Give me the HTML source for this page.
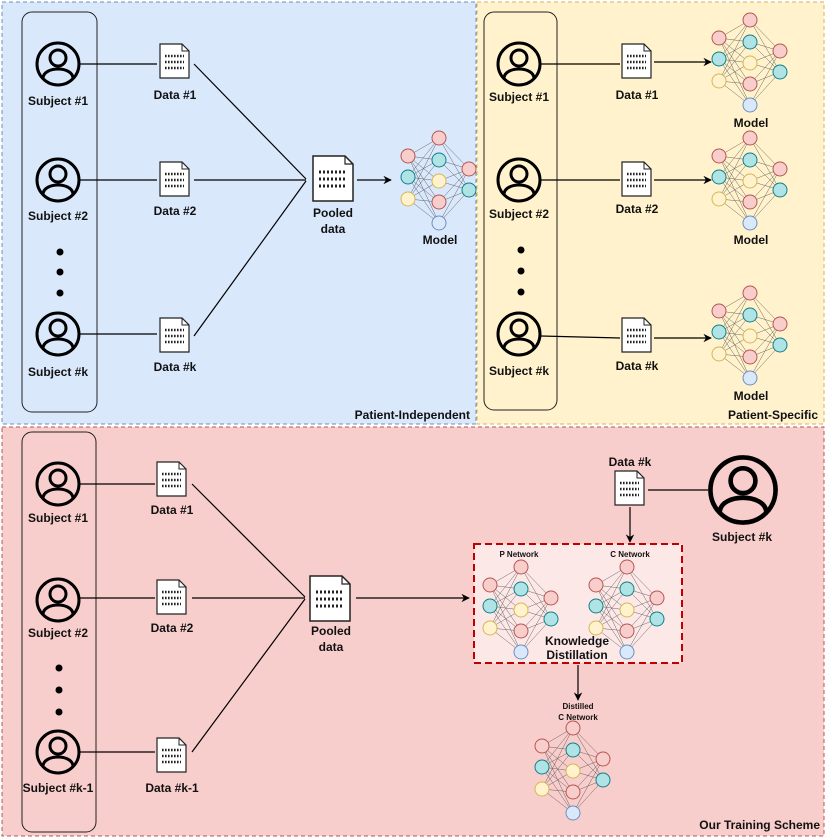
<!DOCTYPE html>
<html><head><meta charset="utf-8"><style>body{margin:0;background:#fff}svg{display:block}text{font-family:"Liberation Sans",sans-serif;font-weight:bold;fill:#111}</style></head><body>
<svg width="831" height="839" viewBox="0 0 831 839" xmlns="http://www.w3.org/2000/svg">
<defs>
<marker id="ar" viewBox="0 0 10 10" refX="9" refY="5" markerWidth="7" markerHeight="7" orient="auto"><path d="M0,0 L10,5 L0,10 L3,5 z" fill="#000"/></marker>
<symbol id="nn" overflow="visible">
<g stroke="#444" stroke-width="0.5" opacity="0.8">
<path d="M-31,-24L0,-42M-31,-24L0,-20M-31,-24L0,1M-31,-24L0,22M-31,-24L0,43M-31,-3L0,-42M-31,-3L0,-20M-31,-3L0,1M-31,-3L0,22M-31,-3L0,43M-31,19L0,-42M-31,19L0,-20M-31,19L0,1M-31,19L0,22M-31,19L0,43M0,-42L30,-11M0,-20L30,-11M0,1L30,-11M0,22L30,-11M0,43L30,-11M0,-42L30,10M0,-20L30,10M0,1L30,10M0,22L30,10M0,43L30,10"/>
</g>
<g stroke-width="1">
<circle cx="-31" cy="-24" r="7" fill="#f8cecc" stroke="#b85450"/>
<circle cx="-31" cy="-3" r="7" fill="#b0e3e6" stroke="#0e8088"/>
<circle cx="-31" cy="19" r="7" fill="#fff2cc" stroke="#d6b656"/>
<circle cx="0" cy="-42" r="7" fill="#f8cecc" stroke="#b85450"/>
<circle cx="0" cy="-20" r="7" fill="#b0e3e6" stroke="#0e8088"/>
<circle cx="0" cy="1" r="7" fill="#fff2cc" stroke="#d6b656"/>
<circle cx="0" cy="22" r="7" fill="#f8cecc" stroke="#b85450"/>
<circle cx="0" cy="43" r="7" fill="#dae8fc" stroke="#6c8ebf"/>
<circle cx="30" cy="-11" r="7" fill="#f8cecc" stroke="#b85450"/>
<circle cx="30" cy="10" r="7" fill="#b0e3e6" stroke="#0e8088"/>
</g>
</symbol>
<symbol id="doc" overflow="visible">
<path d="M0,0 H22 L29,7 V34 H0 Z" fill="#fff" stroke="#222" stroke-width="1.2"/>
<path d="M22,0 V7 H29" fill="none" stroke="#222" stroke-width="1"/>
<g stroke="#222" stroke-width="2.4" stroke-dasharray="1.6 1.4"><line x1="5" y1="12" x2="24" y2="12"/><line x1="5" y1="18" x2="24" y2="18"/><line x1="5" y1="24" x2="24" y2="24"/></g>
</symbol>
<symbol id="pdoc" overflow="visible">
<path d="M0,0 H32 L40,8 V45 H0 Z" fill="#fff" stroke="#222" stroke-width="1.5"/>
<path d="M32,0 V8 H40" fill="none" stroke="#222" stroke-width="1.2"/>
<g stroke="#222" stroke-width="3" stroke-dasharray="2 2"><line x1="6" y1="16" x2="34" y2="16"/><line x1="6" y1="23" x2="34" y2="23"/><line x1="6" y1="30" x2="34" y2="30"/></g>
</symbol>
<symbol id="person" overflow="visible">
<circle cx="0" cy="0" r="21" fill="none" stroke="#000" stroke-width="3"/>
<circle cx="0" cy="-6" r="8" fill="none" stroke="#000" stroke-width="3"/>
<path d="M-15,14 C-14,2 14,2 15,14" fill="none" stroke="#000" stroke-width="3"/>
</symbol>
</defs>

<rect x="2" y="2" width="474" height="422" fill="#dae8fc" stroke="#6c8ebf" stroke-dasharray="4 3"/>
<rect x="477" y="2" width="347" height="422" fill="#fff2cc" stroke="#d6b656" stroke-dasharray="4 3"/>
<rect x="2" y="427" width="822" height="409" fill="#f8cecc" stroke="#b85450" stroke-dasharray="4 3"/>

<g fill="none" stroke="#222" stroke-width="1">
<rect x="22" y="12" width="75" height="400" rx="10"/>
<rect x="484" y="12" width="73" height="398" rx="10"/>
<rect x="22" y="432" width="74" height="400" rx="10"/>
</g>

<g font-size="12" text-anchor="middle">
<use href="#person" x="58" y="64"/><text x="58" y="105">Subject #1</text>
<use href="#person" x="58" y="180"/><text x="58" y="220">Subject #2</text>
<use href="#person" x="58" y="334"/><text x="58" y="376">Subject #k</text>
<circle cx="60" cy="252" r="3.5" fill="#000"/><circle cx="60" cy="272" r="3.5" fill="#000"/><circle cx="60" cy="293" r="3.5" fill="#000"/>
<g stroke="#000" stroke-width="1.2">
<line x1="80" y1="64" x2="157" y2="64"/><line x1="80" y1="180" x2="157" y2="180"/><line x1="80" y1="334" x2="157" y2="334"/>
<line x1="194" y1="64" x2="306" y2="179"/><line x1="194" y1="180" x2="306" y2="180"/><line x1="194" y1="336" x2="306" y2="181"/>
<line x1="357" y1="180" x2="391" y2="180" marker-end="url(#ar)"/>
</g>
<use href="#doc" x="160" y="44"/><text x="175" y="99">Data #1</text>
<use href="#doc" x="160" y="162"/><text x="175" y="215">Data #2</text>
<use href="#doc" x="160" y="318"/><text x="175" y="371">Data #k</text>
<use href="#pdoc" x="313" y="156"/><text x="333" y="217">Pooled</text><text x="333" y="233">data</text>
<use href="#nn" x="439" y="180"/><text x="440" y="244">Model</text>
<text x="470" y="419" text-anchor="end">Patient-Independent</text>

<use href="#person" x="519" y="64"/><text x="519" y="101">Subject #1</text>
<use href="#person" x="519" y="180"/><text x="519" y="218">Subject #2</text>
<use href="#person" x="519" y="334"/><text x="519" y="375">Subject #k</text>
<circle cx="521" cy="250" r="3.5" fill="#000"/><circle cx="521" cy="271" r="3.5" fill="#000"/><circle cx="521" cy="292" r="3.5" fill="#000"/>
<g stroke="#000" stroke-width="1.2">
<line x1="541" y1="64" x2="620" y2="64"/><line x1="541" y1="180" x2="620" y2="180"/><line x1="541" y1="336" x2="620" y2="338"/>
<line x1="654" y1="62" x2="711" y2="62" marker-end="url(#ar)"/><line x1="654" y1="180" x2="711" y2="180" marker-end="url(#ar)"/><line x1="654" y1="338" x2="711" y2="338" marker-end="url(#ar)"/>
</g>
<use href="#doc" x="622" y="44"/><text x="637" y="99">Data #1</text>
<use href="#doc" x="622" y="162"/><text x="637" y="213">Data #2</text>
<use href="#doc" x="622" y="318"/><text x="637" y="370">Data #k</text>
<use href="#nn" x="750" y="62"/><text x="751" y="127">Model</text>
<use href="#nn" x="750" y="180"/><text x="751" y="244">Model</text>
<use href="#nn" x="750" y="335"/><text x="751" y="400">Model</text>
<text x="818" y="419" text-anchor="end">Patient-Specific</text>

<use href="#person" x="58" y="484"/><text x="58" y="522">Subject #1</text>
<use href="#person" x="58" y="600"/><text x="58" y="637">Subject #2</text>
<use href="#person" x="58" y="752"/><text x="58" y="792">Subject #k-1</text>
<circle cx="59" cy="668" r="3.5" fill="#000"/><circle cx="59" cy="690" r="3.5" fill="#000"/><circle cx="59" cy="712" r="3.5" fill="#000"/>
<g stroke="#000" stroke-width="1.2">
<line x1="80" y1="484" x2="155" y2="484"/><line x1="80" y1="598" x2="155" y2="598"/><line x1="80" y1="752" x2="155" y2="752"/>
<line x1="192" y1="484" x2="305" y2="597"/><line x1="192" y1="598" x2="305" y2="598"/><line x1="192" y1="752" x2="305" y2="599"/>
<line x1="356" y1="598" x2="469" y2="598" marker-end="url(#ar)"/>
<line x1="648" y1="490" x2="708" y2="490"/>
<line x1="630" y1="507" x2="630" y2="542" marker-end="url(#ar)"/>
<line x1="578" y1="665" x2="578" y2="700" marker-end="url(#ar)"/>
</g>
<use href="#doc" x="615" y="471"/><text x="630" y="466">Data #k</text>
<use href="#doc" x="157" y="462"/><text x="172" y="514">Data #1</text>
<use href="#doc" x="157" y="580"/><text x="172" y="632">Data #2</text>
<use href="#doc" x="157" y="738"/><text x="172" y="792">Data #k-1</text>
<use href="#pdoc" x="310" y="576"/><text x="331" y="635">Pooled</text><text x="331" y="651">data</text>
<g transform="translate(743,490) scale(1.55)"><use href="#person" x="0" y="0"/></g>
<text x="742" y="541">Subject #k</text>
<rect x="474" y="544" width="208" height="119" fill="#fde8e8" stroke="#c00000" stroke-width="2" stroke-dasharray="7 4"/>
<text x="519" y="557" font-size="8">P Network</text><text x="630" y="557" font-size="8">C Network</text>
<use href="#nn" x="521" y="609"/><use href="#nn" x="627" y="609"/>
<text x="577" y="645">Knowledge</text><text x="577" y="659">Distillation</text>
<text x="578" y="709" font-size="8">Distilled</text><text x="578" y="720" font-size="8">C Network</text>
<use href="#nn" x="573" y="770"/>
<text x="820" y="829" text-anchor="end">Our Training Scheme</text>
</g>
</svg>
</body></html>
